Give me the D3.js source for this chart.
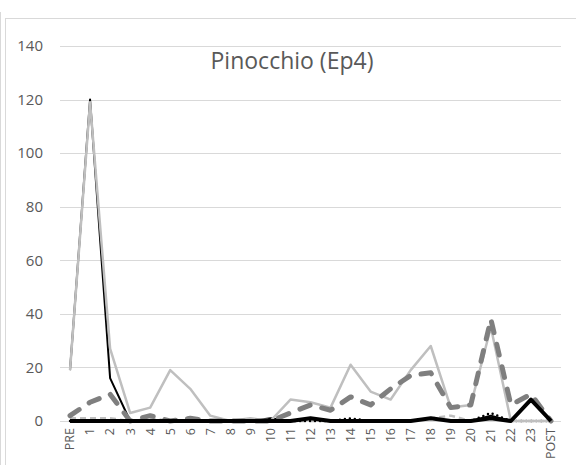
<!DOCTYPE html>
<html>
<head>
<meta charset="utf-8">
<script src="https://cdn.jsdelivr.net/npm/d3@7"></script>
<style>
  html, body { margin: 0; padding: 0; background: #ffffff; }
  svg { display: block; }
  text { font-family: "Open Sans", "Noto Sans", sans-serif; }
</style>
</head>
<body>
<svg id="chart" width="576" height="465"></svg>
<script>
const title = "Pinocchio (Ep4)";
const categories = ["PRE","1","2","3","4","5","6","7","8","9","10","11","12","13","14","15","16","17","18","19","20","21","22","23","POST"];
const yTicks = [0, 20, 40, 60, 80, 100, 120, 140];

const blackThin   = [19,120,16,0,0,0,0,0,0,0,1,0,1,0,0,0,0,0,1,0,0,2,0,0,0];
const blackThick  = [0,0,0,0,0,0,0,0,0,0,0,0,1,0,0,0,0,0,1,0,0,1,0,8,0];
const blackDotted = [0,0,0,0,0,0,0,0,0,0,0,0,0,0,1,0,0,0,1,0,0,3,0,0,0];
const lightSolid  = [19,119,27,3,5,19,12,2,0,1,0,8,7,5,21,11,8,19,28,5,6,35,0,0,0];
const lightDashed = [1,1,1,0,1,0,0,0,0,0,0,0,0,0,0,0,0,0,1,2,0,1,0,0,0];
const darkDashed  = [2,7,10,0,2,0,1,0,0,0,0,3,6,4,9,6,12,17,18,5,6,38,6,10,0];

const series = [
  { name: "lightDashed", values: lightDashed, color: "#bfbfbf", width: 2.5, dash: "6 4", cap: "butt" },
  { name: "blackDotted", values: blackDotted, color: "#000000", width: 2.5, dash: "0 5", cap: "round" },
  { name: "blackThin",   values: blackThin,   color: "#000000", width: 2,   dash: null, cap: "butt" },
  { name: "lightSolid",  values: lightSolid,  color: "#bfbfbf", width: 2.5, dash: null, cap: "butt" },
  { name: "darkDashed",  values: darkDashed,  color: "#7f7f7f", width: 5,   dash: "11 12", cap: "round" },
  { name: "blackThick",  values: blackThick,  color: "#000000", width: 4,   dash: null, cap: "butt" }
];

const svg = d3.select("#chart");
const plotLeft = 60, plotRight = 561, plotTop = 46, plotBottom = 421;

// outer frame
svg.append("line").attr("x1", 0.5).attr("x2", 0.5).attr("y1", 12).attr("y2", 465)
  .attr("stroke", "#d9d9d9").attr("stroke-width", 1);
svg.append("rect").attr("x", 5.5).attr("y", 18.5).attr("width", 640).attr("height", 520)
  .attr("fill", "#ffffff").attr("stroke", "#d9d9d9").attr("stroke-width", 1);

const x = d3.scaleBand().domain(categories).range([plotLeft, plotRight]);
const xc = c => x(c) + x.bandwidth() / 2;
const y = d3.scaleLinear().domain([0, 140]).range([plotBottom, plotTop]);

// gridlines
svg.append("g").selectAll("line").data(yTicks).join("line")
  .attr("x1", plotLeft).attr("x2", plotRight)
  .attr("y1", d => Math.round(y(d)) + 0.5).attr("y2", d => Math.round(y(d)) + 0.5)
  .attr("stroke", "#d9d9d9").attr("stroke-width", 1);

// y axis labels
const yAxis = d3.axisLeft(y).tickValues(yTicks).tickSize(0).tickPadding(0);
const gy = svg.append("g").attr("transform", `translate(43,0)`).call(yAxis);
gy.select(".domain").remove();
gy.selectAll("text").attr("fill", "#595959").style("font-size", "15px")
  .style("font-family", '"Open Sans", "Noto Sans", sans-serif');

// x axis labels
const xAxis = d3.axisBottom(x).tickSize(0).tickPadding(0);
const gx = svg.append("g").attr("transform", `translate(0,${plotBottom})`).call(xAxis);
gx.select(".domain").remove();
gx.selectAll("text")
  .attr("fill", "#595959").style("font-size", "12.5px")
  .style("font-family", '"Open Sans", "Noto Sans", sans-serif')
  .attr("text-anchor", "end").attr("dy", "0.35em")
  .attr("transform", "translate(0,7) rotate(-90)")
  .attr("x", 0).attr("y", 0);

// lines
const line = d3.line().x((d, i) => xc(categories[i])).y(d => y(d));
const gl = svg.append("g");
series.forEach(s => {
  const p = gl.append("path").datum(s.values)
    .attr("d", line).attr("fill", "none")
    .attr("stroke", s.color).attr("stroke-width", s.width)
    .attr("stroke-linejoin", "round").attr("stroke-linecap", s.cap);
  if (s.dash) p.attr("stroke-dasharray", s.dash);
});

// title
svg.append("text").attr("x", 292).attr("y", 69).attr("text-anchor", "middle")
  .attr("fill", "#595959").style("font-size", "23px").text(title);
</script>
</body>
</html>
